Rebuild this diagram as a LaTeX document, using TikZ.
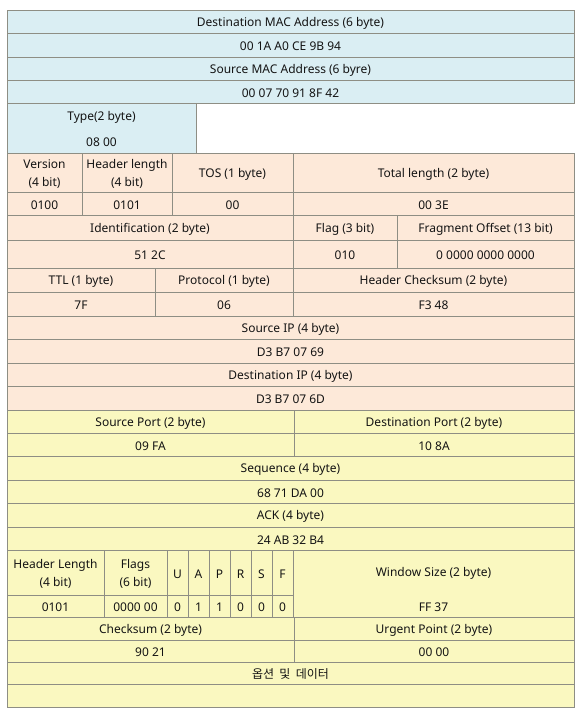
\documentclass[tikz,border=0pt]{standalone}
\usepackage{fontspec}
\setmainfont{Noto Sans}
\newfontfamily\korfont{Noto Sans CJK KR}
\definecolor{macblue}{HTML}{DAEEF3}
\definecolor{ippeach}{HTML}{FDE9D9}
\definecolor{tcpyellow}{HTML}{FAF8C0}
\definecolor{gridline}{HTML}{8E8E84}
\definecolor{fieldtext}{HTML}{141414}
\tikzset{
  fieldline/.style={draw=gridline, line width=0.8pt},
  fieldtext/.style={inner sep=0pt, align=center, yshift=-1.5pt, text=fieldtext, font=\fontsize{12}{18.5}\selectfont}
}
% one box of the header, with its text in the middle
\newcommand{\field}[7]{%
  \filldraw[fieldline, fill=#2] (#3,#4) rectangle (#5,#6);
  \node[fieldtext] (#1) at ({(#3+#5)/2},{(#4+#6)/2}) {#7};
}
\begin{document}
\begin{tikzpicture}[x=1pt,y=-1pt]
\useasboundingbox (0,0) rectangle (585,718);
% Ethernet
\field{dmac}{macblue}{7}{10}{574}{33}{Destination MAC Address (6 byte)}
\field{dmacv}{macblue}{7}{33}{574}{57}{00 1A A0 CE 9B 94}
\field{smac}{macblue}{7}{57}{574}{80}{Source MAC Address (6 byre)}
\field{smacv}{macblue}{7}{80}{574}{103}{00 07 70 91 8F 42}
\filldraw[fieldline, fill=macblue] (7,103) rectangle (196,153);
\node[fieldtext] (type) at (101.5,116) {Type(2 byte)};
\node[fieldtext] (typev) at (101.5,141) {08 00};
% IP
\field{ver}{ippeach}{7}{153}{82}{192}{Version\\(4 bit)}
\field{ihl}{ippeach}{82}{153}{172}{192}{Header length\\(4 bit)}
\field{tos}{ippeach}{172}{153}{293}{192}{TOS (1 byte)}
\field{tlen}{ippeach}{293}{153}{574}{192}{Total length (2 byte)}
\field{verv}{ippeach}{7}{192}{82}{215}{0100}
\field{ihlv}{ippeach}{82}{192}{172}{215}{0101}
\field{tosv}{ippeach}{172}{192}{293}{215}{00}
\field{tlenv}{ippeach}{293}{192}{574}{215}{00 3E}
\field{ident}{ippeach}{7}{215}{293}{240}{Identification (2 byte)}
\field{flag}{ippeach}{293}{215}{397}{240}{Flag (3 bit)}
\field{frag}{ippeach}{397}{215}{574}{240}{Fragment Offset (13 bit)}
\field{identv}{ippeach}{7}{240}{293}{268}{51 2C}
\field{flagv}{ippeach}{293}{240}{397}{268}{010}
\field{fragv}{ippeach}{397}{240}{574}{268}{0 0000 0000 0000}
\field{ttl}{ippeach}{7}{268}{155}{292}{TTL (1 byte)}
\field{proto}{ippeach}{155}{268}{293}{292}{Protocol (1 byte)}
\field{hcs}{ippeach}{293}{268}{574}{292}{Header Checksum (2 byte)}
\field{ttlv}{ippeach}{7}{292}{155}{316}{7F}
\field{protov}{ippeach}{155}{292}{293}{316}{06}
\field{hcsv}{ippeach}{293}{292}{574}{316}{F3 48}
\field{sip}{ippeach}{7}{316}{574}{339}{Source IP (4 byte)}
\field{sipv}{ippeach}{7}{339}{574}{363}{D3 B7 07 69}
\field{dip}{ippeach}{7}{363}{574}{386}{Destination IP (4 byte)}
\field{dipv}{ippeach}{7}{386}{574}{410}{D3 B7 07 6D}
% TCP
\field{sport}{tcpyellow}{7}{410}{294}{433}{Source Port (2 byte)}
\field{dport}{tcpyellow}{294}{410}{574}{433}{Destination Port (2 byte)}
\field{sportv}{tcpyellow}{7}{433}{294}{456}{09 FA}
\field{dportv}{tcpyellow}{294}{433}{574}{456}{10 8A}
\field{seq}{tcpyellow}{7}{456}{574}{480}{Sequence (4 byte)}
\field{seqv}{tcpyellow}{7}{480}{574}{503}{68 71 DA 00}
\field{ack}{tcpyellow}{7}{503}{574}{527}{ACK (4 byte)}
\field{ackv}{tcpyellow}{7}{527}{574}{550}{24 AB 32 B4}
\field{thl}{tcpyellow}{7}{550}{104}{595}{Header Length\\(4 bit)}
\field{flags}{tcpyellow}{104}{550}{167}{595}{Flags\\(6 bit)}
\field{thlv}{tcpyellow}{7}{595}{104}{617}{0101}
\field{flagsv}{tcpyellow}{104}{595}{167}{617}{0000 00}
\foreach \f/\v [count=\i from 0] in {U/0,A/1,P/1,R/0,S/0,F/0}{
  \pgfmathsetmacro{\xa}{167+21*\i}
  \pgfmathsetmacro{\xb}{188+21*\i}
  \field{bit\f}{tcpyellow}{\xa}{550}{\xb}{595}{\f}
  \field{bitv\f}{tcpyellow}{\xa}{595}{\xb}{617}{\v}
}
\filldraw[fieldline, fill=tcpyellow] (293,550) rectangle (574,617);
\node[fieldtext] (win) at (433.5,572) {Window Size (2 byte)};
\node[fieldtext] (winv) at (433.5,606) {FF 37};
\field{cks}{tcpyellow}{7}{617}{294}{640}{Checksum (2 byte)}
\field{urg}{tcpyellow}{294}{617}{574}{640}{Urgent Point (2 byte)}
\field{cksv}{tcpyellow}{7}{640}{294}{662}{90 21}
\field{urgv}{tcpyellow}{294}{640}{574}{662}{00 00}
\field{opt}{tcpyellow}{7}{662}{574}{684}{\korfont\fontsize{12}{14}\selectfont 옵션~ 및~ 데이터}
\field{optv}{tcpyellow}{7}{684}{574}{707}{}
\end{tikzpicture}
\end{document}
